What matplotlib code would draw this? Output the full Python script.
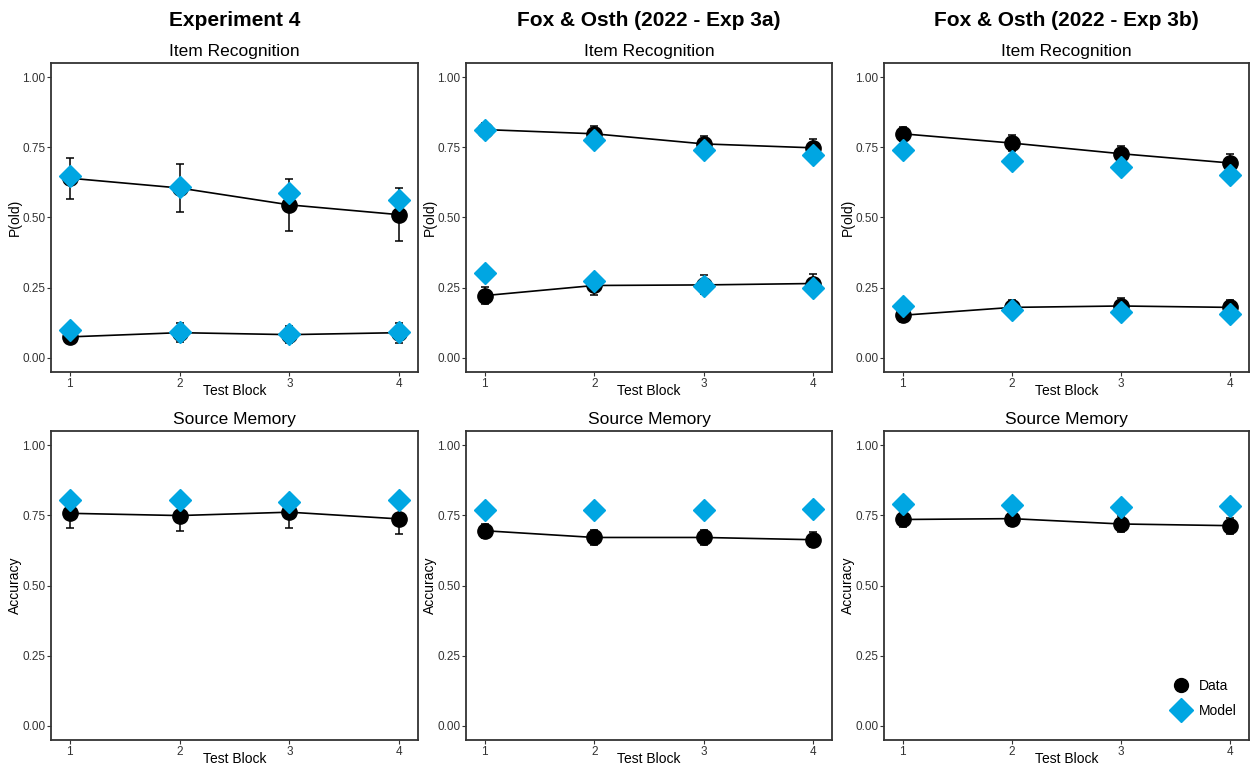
import numpy as np
import matplotlib
matplotlib.use("Agg")
import matplotlib.pyplot as plt
from matplotlib.lines import Line2D

plt.rcParams["font.family"] = ["Liberation Sans", "DejaVu Sans"]

blocks = [1, 2, 3, 4]
titles = ["Experiment 4", "Fox & Osth (2022 - Exp 3a)", "Fox & Osth (2022 - Exp 3b)"]

# item recognition: hits (upper) and false alarms (lower)
hit_data = [[0.64, 0.605, 0.545, 0.51],
            [0.813, 0.798, 0.762, 0.748],
            [0.798, 0.765, 0.727, 0.694]]
hit_err = [[0.073, 0.086, 0.092, 0.095],
           [0.025, 0.027, 0.028, 0.03],
           [0.025, 0.027, 0.029, 0.032]]
hit_model = [[0.646, 0.608, 0.587, 0.563],
             [0.813, 0.775, 0.742, 0.721],
             [0.74, 0.702, 0.68, 0.652]]

fa_data = [[0.075, 0.09, 0.083, 0.09],
           [0.222, 0.258, 0.26, 0.265],
           [0.152, 0.18, 0.185, 0.18]]
fa_err = [[0.022, 0.034, 0.03, 0.035],
          [0.031, 0.034, 0.034, 0.035],
          [0.025, 0.027, 0.027, 0.027]]
fa_model = [[0.10, 0.093, 0.087, 0.093],
            [0.304, 0.274, 0.256, 0.248],
            [0.185, 0.17, 0.164, 0.158]]

# source memory accuracy
src_data = [[0.757, 0.749, 0.761, 0.737],
            [0.695, 0.671, 0.671, 0.663],
            [0.735, 0.738, 0.719, 0.713]]
src_err = [[0.054, 0.056, 0.057, 0.052],
           [0.025, 0.026, 0.026, 0.026],
           [0.027, 0.027, 0.028, 0.029]]
src_model = [[0.803, 0.805, 0.799, 0.803],
             [0.767, 0.767, 0.767, 0.773],
             [0.79, 0.788, 0.779, 0.783]]

blue = "#00A6E2"
spine_col = "#333333"

fig = plt.figure(figsize=(12.56, 7.66), dpi=100)

lefts = [51 / 1256, 466 / 1256, 884 / 1256]
widths = [367 / 1256, 366 / 1256, 365 / 1256]
top_b = 1 - 372 / 766
bot_b = 1 - 740 / 766
h = 309 / 766


def style_ax(ax, ylab, sub):
    ax.set_xlim(0.83, 4.17)
    ax.set_ylim(-0.05, 1.05)
    ax.set_xticks(blocks)
    ax.set_yticks([0, 0.25, 0.5, 0.75, 1.0])
    ax.set_yticklabels(["0.00", "0.25", "0.50", "0.75", "1.00"])
    ax.tick_params(labelsize=8.5, colors="#333333", length=3, width=0.8, pad=1)
    for s in ax.spines.values():
        s.set_color(spine_col)
        s.set_linewidth(1.3)
    ax.set_xlabel("Test Block", fontsize=10, labelpad=-4)
    ax.set_ylabel(ylab, fontsize=10, labelpad=0)
    ax.set_title(sub, fontsize=12.5, pad=5)


def draw(ax, d, e, m):
    ax.plot(blocks, d, color="black", lw=1.2, zorder=2)
    ax.errorbar(blocks, d, yerr=e, fmt="o", color="black", ms=11,
                capsize=3, elinewidth=1.1, capthick=1.1, zorder=3)
    ax.plot(blocks, m, "D", color=blue, ms=11, mec=blue, zorder=4)


for i in range(3):
    ax = fig.add_axes([lefts[i], top_b, widths[i], h])
    draw(ax, hit_data[i], hit_err[i], hit_model[i])
    draw(ax, fa_data[i], fa_err[i], fa_model[i])
    style_ax(ax, "P(old)", "Item Recognition")
    fig.text(lefts[i] + widths[i] / 2, 1 - 20 / 766, titles[i],
             ha="center", va="center", fontsize=15, fontweight="bold")

    ax2 = fig.add_axes([lefts[i], bot_b, widths[i], h])
    draw(ax2, src_data[i], src_err[i], src_model[i])
    style_ax(ax2, "Accuracy", "Source Memory")

    if i == 2:
        handles = [Line2D([], [], marker="o", ls="", color="black", ms=10),
                   Line2D([], [], marker="D", ls="", color=blue, ms=12)]
        ax2.legend(handles, ["Data", "Model"], loc="lower right",
                   frameon=False, fontsize=10, handletextpad=0.3,
                   labelspacing=0.8, bbox_to_anchor=(1.0, 0.03))

plt.savefig("out.png", dpi=100)
